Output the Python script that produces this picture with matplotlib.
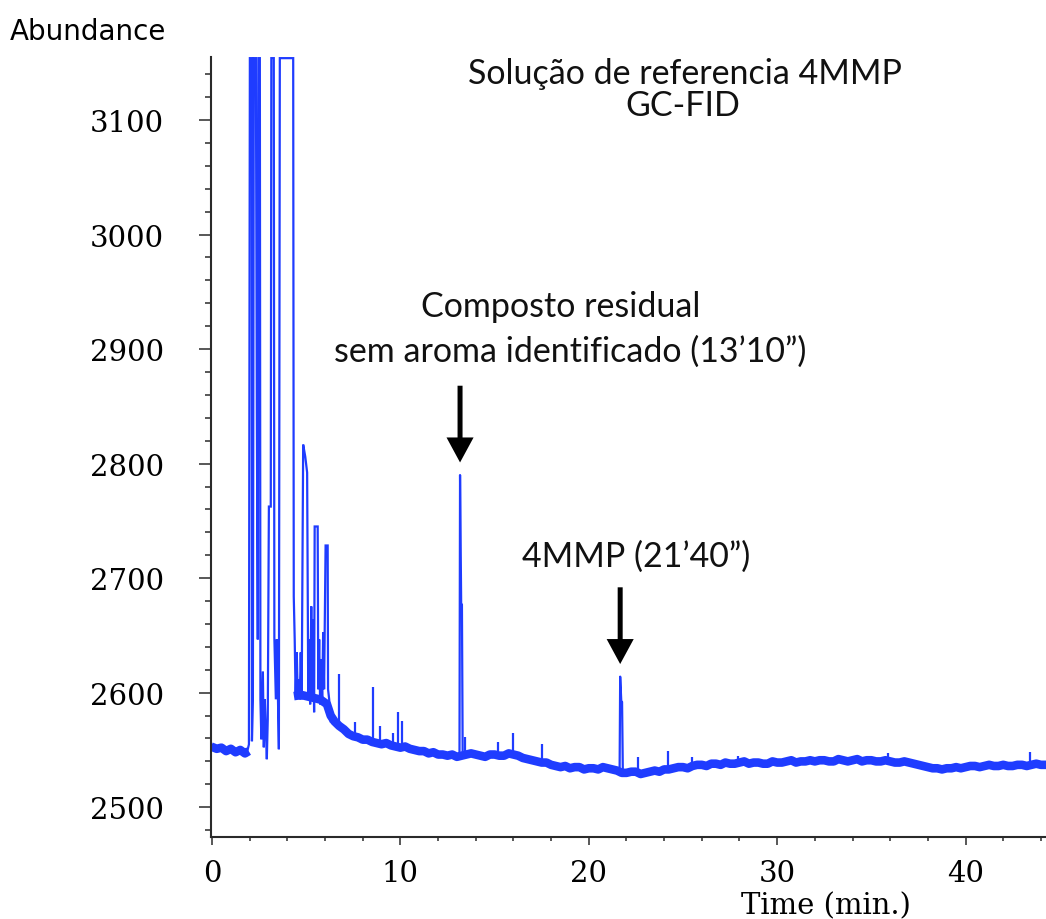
import matplotlib.pyplot as plt
from matplotlib.ticker import MultipleLocator

# labelled peaks: retention time as minutes / seconds, apex, shoulder and foot
peak_min = [13, 21]
peak_sec = [10, 40]
peak_top = [2790, 2614]
peak_shoulder = [2677, 2592]
peak_base = [2544, 2532]

# baseline before the solvent front
base1_t = [-0.05, 0.25, 0.5, 0.75, 1.0, 1.25, 1.5, 1.75, 1.95]
base1_y = [2553, 2551, 2552, 2549, 2551, 2548, 2550, 2547, 2549]

# baseline after the solvent front (tail of the solvent, then the long run)
base2_t = [4.35, 4.75, 5.25, 5.75, 6.1, 6.3,
           6.5, 6.75, 7.0, 7.25, 7.5, 7.75, 8.0, 8.25, 8.5, 8.75, 9.0, 9.25,
           9.5, 9.75, 10.0, 10.25, 10.5, 10.75, 11.0, 11.25, 11.5, 11.75,
           12.0, 12.25, 12.5, 12.75, 13.0, 13.25, 13.5, 13.75, 14.0, 14.25,
           14.5, 14.75, 15.0, 15.25, 15.5, 15.75, 16.0, 16.25, 16.5, 16.75,
           17.0, 17.25, 17.5, 17.75, 18.0, 18.25, 18.5, 18.75, 19.0, 19.25,
           19.5, 19.75, 20.0, 20.25, 20.5, 20.75, 21.0, 21.25, 21.5, 21.75,
           22.0, 22.25, 22.5, 22.75, 23.0, 23.25, 23.5, 23.75, 24.0, 24.25,
           24.5, 24.75, 25.0, 25.25, 25.5, 25.75, 26.0, 26.25, 26.5, 26.75,
           27.0, 27.25, 27.5, 27.75, 28.0, 28.25, 28.5, 28.75, 29.0, 29.25,
           29.5, 29.75, 30.0, 30.25, 30.5, 30.75, 31.0, 31.25, 31.5, 31.75,
           32.0, 32.25, 32.5, 32.75, 33.0, 33.25, 33.5, 33.75, 34.0, 34.25,
           34.5, 34.75, 35.0, 35.25, 35.5, 35.75, 36.0, 36.25, 36.5, 36.75,
           37.0, 37.25, 37.5, 37.75, 38.0, 38.25, 38.5, 38.75, 39.0, 39.25,
           39.5, 39.75, 40.0, 40.25, 40.5, 40.75, 41.0, 41.25, 41.5, 41.75,
           42.0, 42.25, 42.5, 42.75, 43.0, 43.25, 43.5, 43.75, 44.0, 44.3]
base2_y = [2597, 2598, 2596, 2594, 2590, 2580,
           2575, 2571, 2568, 2564, 2562, 2561, 2559, 2559, 2557, 2556, 2555,
           2556, 2554, 2553, 2552, 2553, 2551, 2550, 2549, 2549, 2547, 2548,
           2546, 2546, 2545, 2546, 2544, 2545, 2546, 2547, 2546, 2545, 2544,
           2546, 2546, 2545, 2545, 2547, 2546, 2545, 2543, 2542, 2541, 2540,
           2539, 2539, 2537, 2536, 2535, 2536, 2534, 2535, 2535, 2533, 2534,
           2534, 2533, 2535, 2534, 2533, 2532, 2530, 2530, 2531, 2531, 2529,
           2530, 2531, 2532, 2531, 2533, 2533, 2534, 2535, 2535, 2534, 2536,
           2537, 2537, 2536, 2538, 2538, 2537, 2539, 2538, 2538, 2539, 2540,
           2538, 2539, 2539, 2538, 2538, 2540, 2539, 2539, 2540, 2541, 2539,
           2540, 2540, 2541, 2540, 2541, 2541, 2540, 2540, 2542, 2541, 2540,
           2541, 2542, 2540, 2541, 2541, 2540, 2540, 2541, 2540, 2539, 2539,
           2540, 2539, 2538, 2537, 2536, 2535, 2534, 2534, 2533, 2534, 2534,
           2535, 2534, 2535, 2536, 2536, 2535, 2536, 2537, 2536, 2536, 2537,
           2536, 2536, 2537, 2537, 2536, 2537, 2538, 2537, 2537]

# solvent front; saturated readings sit at the top of the window (3154)
front_t = [1.85, 1.96, 2.01, 2.12, 2.12, 2.17, 2.22, 2.33, 2.38, 2.43, 2.46,
           2.54, 2.57, 2.62, 2.70, 2.75, 2.80, 2.86, 2.91, 2.96, 3.02, 3.12,
           3.15, 3.28, 3.31, 3.39, 3.44, 3.49, 3.55, 3.60, 4.31, 4.34, 4.39,
           4.44, 4.50, 4.55, 4.60, 4.66, 4.71, 4.76, 4.84, 4.95, 5.05, 5.11,
           5.16, 5.21, 5.27, 5.32, 5.37, 5.42, 5.45, 5.61, 5.64, 5.69, 5.74,
           5.79, 5.85, 5.90, 5.95, 5.98, 6.03, 6.14, 6.16, 6.22, 6.30]
front_y = [2547.1, 2554.9, 3154, 3154, 2557.6, 2594.2, 3154, 3154, 2845.4,
           2646.5, 3154, 3154, 2594.2, 2559.3, 2618.6, 2552.3, 2594.2, 2568.0,
           2541.9, 2576.8, 2762.5, 2762.5, 3154, 3154, 2648.3, 2594.2, 2646.5,
           2605.5, 2550.6, 3154, 3154, 2684.0, 2646.5, 2596.8, 2635.2, 2596.8,
           2611.6, 2594.2, 2635.2, 2594.2, 2816.6, 2806.1, 2792.2, 2594.2,
           2646.5, 2589.8, 2675.3, 2594.2, 2664.0, 2582.9, 2745.1, 2745.1,
           2603.0, 2646.5, 2589.8, 2629.1, 2594.2, 2652.6, 2603.0, 2650.9,
           2728.5, 2728.5, 2603.0, 2594.2, 2575.0]

# small peaks along the run: time, foot, apex
minor_t = [6.74, 7.59, 8.55, 8.92, 9.61, 9.87, 10.08, 13.43, 15.18, 15.98,
           17.52, 22.61, 24.20, 25.48, 27.92, 35.88, 43.42]
minor_base = [2572, 2562, 2557, 2555, 2554, 2553, 2552, 2545, 2546, 2545,
              2540, 2531, 2533, 2535, 2538, 2540, 2537]
minor_top = [2616, 2574, 2605, 2571, 2565, 2583, 2575, 2561, 2557, 2565,
             2555, 2544, 2549, 2544, 2545, 2547, 2548]

BLUE = "#1f3cff"
SPINE = "#2a2a2a"

fig = plt.figure(figsize=(10.46, 9.2), dpi=100)
ax = fig.add_axes([211 / 1046, 1 - 838 / 920, 835 / 1046, 780 / 920])

# noisy baseline drawn as a wide band, peaks as thin strokes
ax.plot(base1_t, base1_y, color=BLUE, lw=6.2, solid_capstyle="butt")
ax.plot(base2_t, base2_y, color=BLUE, lw=6.2, solid_capstyle="butt")
ax.plot(front_t, front_y, color=BLUE, lw=1.6, solid_joinstyle="miter")
ax.vlines(minor_t, minor_base, minor_top, color=BLUE, lw=1.6)

peak_t = [m + s / 60 for m, s in zip(peak_min, peak_sec)]
for t, top, sh, base in zip(peak_t, peak_top, peak_shoulder, peak_base):
    ax.plot([t - 0.03, t, t + 0.06, t + 0.1, t + 0.14],
            [base, top, sh, sh, base], color=BLUE, lw=1.6)

# arrows pointing down at the labelled peaks
for t, top in zip(peak_t, peak_top):
    ax.annotate("", xy=(t, top + 11), xytext=(t, top + 78),
                arrowprops=dict(arrowstyle="simple,head_length=1.8,head_width=1.95,tail_width=0.36",
                                mutation_scale=10, fc="black", ec="black", lw=0,
                                shrinkA=0, shrinkB=0))

ax.set_xlim(-0.053, 44.27)
ax.set_ylim(2474, 3155)

for side in ("top", "right"):
    ax.spines[side].set_visible(False)
for side in ("left", "bottom"):
    ax.spines[side].set_color(SPINE)
    ax.spines[side].set_linewidth(1.5)

ax.xaxis.set_major_locator(MultipleLocator(10))
ax.xaxis.set_minor_locator(MultipleLocator(2))
ax.yaxis.set_major_locator(MultipleLocator(100))
ax.yaxis.set_minor_locator(MultipleLocator(20))

ax.tick_params(axis="both", which="both", direction="out", color=SPINE, width=1.1)
ax.tick_params(axis="y", which="major", length=8.6, pad=52)
ax.tick_params(axis="y", which="minor", length=4.3)
ax.tick_params(axis="x", which="major", length=5.8, pad=10)
ax.tick_params(axis="x", which="minor", length=2.9)
for lab in ax.get_xticklabels() + ax.get_yticklabels():
    lab.set_fontfamily("DejaVu Serif")
    lab.set_fontsize(21)
plt.setp(ax.get_yticklabels(), ha="center")

fig.text(10 / 1046, 1 - 40 / 920, "Abundance", family="DejaVu Sans", size=20,
         ha="left", va="baseline")
fig.text(826 / 1046, 1 - 914 / 920, "Time (min.)", family="DejaVu Serif",
         size=21, ha="center", va="baseline")

title_kw = dict(family="Lato", size=24.5, ha="center", va="baseline", color="#111111")
fig.text(685 / 1046, 1 - 84 / 920, "Solução de referencia 4MMP", **title_kw)
fig.text(683 / 1046, 1 - 116 / 920, "GC-FID", **title_kw)
fig.text(561 / 1046, 1 - 317 / 920, "Composto residual", **title_kw)
fig.text(570 / 1046, 1 - 362 / 920,
         f"sem aroma identificado ({peak_min[0]}’{peak_sec[0]:02d}”)", **title_kw)
fig.text(636 / 1046, 1 - 567 / 920,
         f"4MMP ({peak_min[1]}’{peak_sec[1]:02d}”)", **title_kw)

fig.savefig("out.png", dpi=100)
